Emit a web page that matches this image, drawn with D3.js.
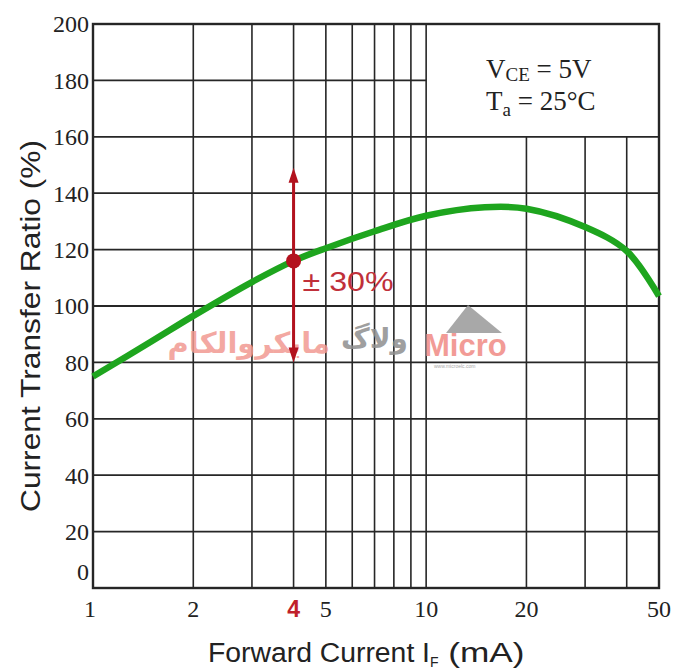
<!DOCTYPE html>
<html>
<head>
<meta charset="utf-8">
<script src="https://cdn.jsdelivr.net/npm/d3@7"></script>
<style>
  body { margin: 0; background: #fff; }
  svg { display: block; }
</style>
</head>
<body>
<div id="chart"></div>
<script>
/* data */
const ifValues  = [1, 1.5, 2, 3, 4, 5, 7, 10, 15, 20, 30, 40, 50];
const ctrValues = [75, 87.5, 96.5, 108.5, 116, 120.5, 126.5, 132, 135, 134.5, 128, 119.5, 103.5];
const xGrid = [2, 3, 4, 5, 6, 7, 8, 9, 10, 20, 30, 40];
const xTickLabels = [1, 2, 4, 5, 10, 20, 50];
const yTicks = [0, 20, 40, 60, 80, 100, 120, 140, 160, 180, 200];
const markIf = 4;
const markCtr = 116;
const spreadLow = 80;
const spreadHigh = 149;

const chartWidth = 681, chartHeight = 670;
const plotLeft = 93, plotRight = 659, plotTop = 24, plotBottom = 588;

const svg = d3.select("#chart").append("svg")
  .attr("width", chartWidth).attr("height", chartHeight);

const x = d3.scaleLog().domain([1, 50]).range([plotLeft, plotRight]);
const y = d3.scaleLinear().domain([0, 200]).range([plotBottom, plotTop]);

const gridColor = "#262626";
const serif = "'Liberation Serif', 'DejaVu Serif', serif";
const sans = "'Liberation Sans', Arial, sans-serif";

/* vertical grid: 20,30,40 stop at 160 (box with conditions above) */
svg.append("g").selectAll("line").data(xGrid).join("line")
  .attr("x1", d => x(d)).attr("x2", d => x(d))
  .attr("y1", y(0))
  .attr("y2", d => d > 10 ? y(160) : y(200))
  .attr("stroke", gridColor).attr("stroke-width", 1.6);

/* horizontal grid: 180 stops at 10 mA */
svg.append("g").selectAll("line").data(yTicks.filter(d => d > 0 && d < 200)).join("line")
  .attr("x1", x(1))
  .attr("x2", d => d === 180 ? x(10) : x(50))
  .attr("y1", d => y(d)).attr("y2", d => y(d))
  .attr("stroke", gridColor).attr("stroke-width", 1.8);

/* frame */
svg.append("rect")
  .attr("x", x(1)).attr("y", y(200))
  .attr("width", x(50) - x(1)).attr("height", y(0) - y(200))
  .attr("fill", "none").attr("stroke", gridColor).attr("stroke-width", 2.4);

/* y tick labels */
svg.append("g").selectAll("text").data(yTicks).join("text")
  .attr("x", plotLeft - 4)
  .attr("y", d => d === 0 ? y(d) - 16 : y(d))
  .attr("dy", "0.35em")
  .attr("text-anchor", "end")
  .attr("font-family", serif)
  .attr("font-size", 24)
  .attr("fill", "#222")
  .text(d => d);

/* x tick labels */
svg.append("g").selectAll("text").data(xTickLabels).join("text")
  .attr("x", d => d === 1 ? x(d) - 3 : x(d))
  .attr("y", 617)
  .attr("text-anchor", "middle")
  .attr("font-family", d => d === markIf ? sans : serif)
  .attr("font-weight", d => d === markIf ? "bold" : "normal")
  .attr("font-size", d => d === markIf ? 23 : 24)
  .attr("fill", d => d === markIf ? "#c0202a" : "#222")
  .text(d => d);

/* axis titles */
svg.append("text")
  .attr("x", 208).attr("y", 662)
  .attr("font-family", sans)
  .attr("font-size", 27).attr("fill", "#222")
  .call(t => {
    t.append("tspan").attr("textLength", 222).attr("lengthAdjust", "spacingAndGlyphs").text("Forward Current I");
    t.append("tspan").attr("font-size", 14).attr("dy", 5).text("F");
    t.append("tspan").attr("dy", -5).attr("textLength", 86).attr("lengthAdjust", "spacingAndGlyphs").text(" (mA)");
  });

svg.append("text")
  .attr("transform", `translate(40, 512) rotate(-90)`)
  .attr("font-family", sans)
  .attr("font-size", 27).attr("fill", "#222")
  .attr("textLength", 372)
  .attr("lengthAdjust", "spacingAndGlyphs")
  .text("Current Transfer Ratio (%)");

/* conditions */
const cond = svg.append("g")
  .attr("font-family", serif)
  .attr("font-size", 27).attr("fill", "#222");
cond.append("text").attr("x", 486).attr("y", 78)
  .call(t => {
    t.append("tspan").text("V");
    t.append("tspan").attr("font-size", 19).attr("dy", 3).text("CE");
    t.append("tspan").attr("dy", -3).text(" = 5V");
  });
cond.append("text").attr("x", 486).attr("y", 110)
  .call(t => {
    t.append("tspan").text("T");
    t.append("tspan").attr("font-size", 19).attr("dy", 6).text("a");
    t.append("tspan").attr("dy", -6).text(" = 25°C");
  });

/* watermark */
const wm = svg.append("g").attr("opacity", 0.85);
wm.append("path")
  .attr("d", "M446,333 L468,305 L502,333 Z")
  .attr("fill", "#9a9a9a");
wm.append("text").attr("x", 330).attr("y", 353)
  .attr("text-anchor", "end")
  .attr("font-family", "'Noto Sans', 'DejaVu Sans', sans-serif")
  .attr("font-weight", "bold").attr("font-size", 29)
  .attr("fill", "#f29a92")
  .text("مایکروالکام");
wm.append("text").attr("x", 408).attr("y", 348)
  .attr("text-anchor", "end")
  .attr("font-family", "'Noto Sans', 'DejaVu Sans', sans-serif")
  .attr("font-weight", "bold").attr("font-size", 28)
  .attr("fill", "#8f8f8f")
  .text("ولاگ");
wm.append("text").attr("x", 424).attr("y", 356)
  .attr("font-family", sans)
  .attr("font-weight", "bold").attr("font-size", 31)
  .attr("fill", "#f08a84")
  .text("Micro");
wm.append("text").attr("x", 434).attr("y", 368)
  .attr("font-family", sans)
  .attr("font-size", 5).attr("fill", "#999")
  .text("www.microelc.com");

/* green CTR curve */
const line = d3.line()
  .x((d, i) => x(ifValues[i]))
  .y(d => y(d))
  .curve(d3.curveCatmullRom.alpha(0.5));

svg.append("path")
  .datum(ctrValues)
  .attr("d", line)
  .attr("fill", "none")
  .attr("stroke", "#1ea51e")
  .attr("stroke-width", 6.5);

/* ±30% spread marker */
const red = "#b3121e";
const ax = x(markIf);
svg.append("line")
  .attr("x1", ax).attr("x2", ax)
  .attr("y1", y(spreadHigh) + 10).attr("y2", y(spreadLow) - 10)
  .attr("stroke", red).attr("stroke-width", 3);
svg.append("path")
  .attr("d", `M${ax},${y(spreadHigh)} L${ax - 5},${y(spreadHigh) + 15} L${ax + 5},${y(spreadHigh) + 15} Z`)
  .attr("fill", red);
svg.append("path")
  .attr("d", `M${ax},${y(spreadLow)} L${ax - 5},${y(spreadLow) - 15} L${ax + 5},${y(spreadLow) - 15} Z`)
  .attr("fill", red);
svg.append("circle")
  .attr("cx", ax).attr("cy", y(markCtr)).attr("r", 7.5)
  .attr("fill", red);
svg.append("text")
  .attr("x", ax + 9).attr("y", y(markCtr) + 30)
  .attr("font-family", sans)
  .attr("font-size", 28).attr("fill", "#c0303a")
  .attr("textLength", 91)
  .attr("lengthAdjust", "spacingAndGlyphs")
  .text("± 30%");
</script>
</body>
</html>
